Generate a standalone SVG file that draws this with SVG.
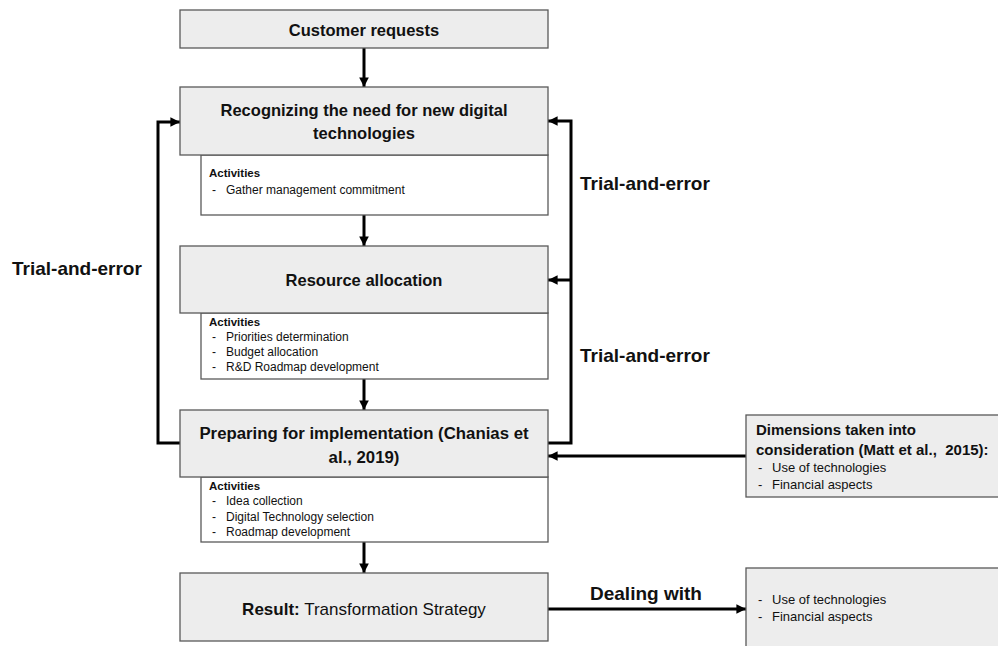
<svg xmlns="http://www.w3.org/2000/svg" width="998" height="646" viewBox="0 0 998 646">
<defs>
<marker id="ah" viewBox="0 0 10 10" refX="10" refY="5" markerWidth="3.2" markerHeight="3.2" orient="auto" markerUnits="strokeWidth">
<path d="M0,0 L10,5 L0,10 Z" fill="#000"/>
</marker>
<style>
.hd{fill:#ededed;stroke:#595959;stroke-width:1.3}
.act{fill:#fff;stroke:#595959;stroke-width:1.3}
.side{fill:#ededed;stroke:#595959;stroke-width:1.3}
text{font-family:"Liberation Sans",Arial,sans-serif;fill:#111}
.t1{font-size:16.5px;font-weight:bold;text-anchor:middle}
.ab{font-size:11.5px;font-weight:bold}
.a{font-size:12px}
.lab{font-size:19px;font-weight:bold}
.db{font-size:15px;font-weight:bold}
.dr{font-size:13px}
.c{fill:none;stroke:#000;stroke-width:3}
</style>
</defs>
<rect width="998" height="646" fill="#fff"/>

<g id="connectors">
<line class="c" x1="364" y1="48" x2="364" y2="87" marker-end="url(#ah)"/>
<line class="c" x1="364" y1="215" x2="364" y2="246" marker-end="url(#ah)"/>
<line class="c" x1="364" y1="379" x2="364" y2="410" marker-end="url(#ah)"/>
<line class="c" x1="364" y1="542" x2="364" y2="573" marker-end="url(#ah)"/>
<polyline class="c" points="180,443 158,443 158,122 180,122" marker-end="url(#ah)"/>
<polyline class="c" points="548,443 571,443 571,121 548,121" marker-end="url(#ah)"/>
<line class="c" x1="571" y1="280" x2="548" y2="280" marker-end="url(#ah)"/>
<line class="c" x1="746" y1="456" x2="548" y2="456" marker-end="url(#ah)"/>
<line class="c" x1="548" y1="609" x2="746" y2="609" marker-end="url(#ah)"/>
<text class="lab" x="12" y="275">Trial-and-error</text>
<text class="lab" x="580" y="190">Trial-and-error</text>
<text class="lab" x="580" y="362">Trial-and-error</text>
<text class="lab" x="590" y="600">Dealing with</text>
</g>

<g id="customer">
<rect class="hd" x="180" y="10" width="368" height="38"/>
<text class="t1" x="364" y="36">Customer requests</text>
</g>

<g id="recognizing">
<rect class="act" x="201" y="155" width="347" height="60"/>
<rect class="hd" x="180" y="87" width="368" height="68"/>
<text class="t1" x="364" y="116">Recognizing the need for new digital</text>
<text class="t1" x="364" y="139">technologies</text>
<text class="ab" x="209" y="177">Activities</text>
<text class="a" x="212" y="194">-</text>
<text class="a" x="226" y="194">Gather management commitment</text>
</g>

<g id="resource">
<rect class="act" x="201" y="313" width="347" height="66"/>
<rect class="hd" x="180" y="246" width="368" height="67"/>
<text class="t1" x="364" y="286">Resource allocation</text>
<text class="ab" x="209" y="326">Activities</text>
<text class="a" x="212" y="341">-</text>
<text class="a" x="226" y="341">Priorities determination</text>
<text class="a" x="212" y="356">-</text>
<text class="a" x="226" y="356">Budget allocation</text>
<text class="a" x="212" y="371">-</text>
<text class="a" x="226" y="371">R&amp;D Roadmap development</text>
</g>

<g id="preparing">
<rect class="act" x="201" y="477" width="347" height="65"/>
<rect class="hd" x="180" y="410" width="368" height="67"/>
<text class="t1" x="364" y="439" style="font-size:16.8px">Preparing for implementation (Chanias et</text>
<text class="t1" x="364" y="463" style="font-size:16.8px">al., 2019)</text>
<text class="ab" x="209" y="490">Activities</text>
<text class="a" x="212" y="505">-</text>
<text class="a" x="226" y="505">Idea collection</text>
<text class="a" x="212" y="521">-</text>
<text class="a" x="226" y="521">Digital Technology selection</text>
<text class="a" x="212" y="536">-</text>
<text class="a" x="226" y="536">Roadmap development</text>
</g>

<g id="result">
<rect class="hd" x="180" y="573" width="368" height="68"/>
<text x="364" y="615" style="font-size:17px;text-anchor:middle"><tspan font-weight="bold">Result:</tspan> Transformation Strategy</text>
</g>

<g id="dimensions">
<rect class="side" x="746" y="415" width="260" height="82"/>
<text class="db" x="756" y="435">Dimensions taken into</text>
<text class="db" x="756" y="455" xml:space="preserve">consideration (Matt et al.,  2015):</text>
<text class="dr" x="758" y="472">-</text>
<text class="dr" x="772" y="472">Use of technologies</text>
<text class="dr" x="758" y="489">-</text>
<text class="dr" x="772" y="489">Financial aspects</text>
</g>

<g id="dealing">
<rect class="side" x="746" y="568" width="260" height="90"/>
<text class="dr" x="758" y="604">-</text>
<text class="dr" x="772" y="604">Use of technologies</text>
<text class="dr" x="758" y="621">-</text>
<text class="dr" x="772" y="621">Financial aspects</text>
</g>
</svg>
